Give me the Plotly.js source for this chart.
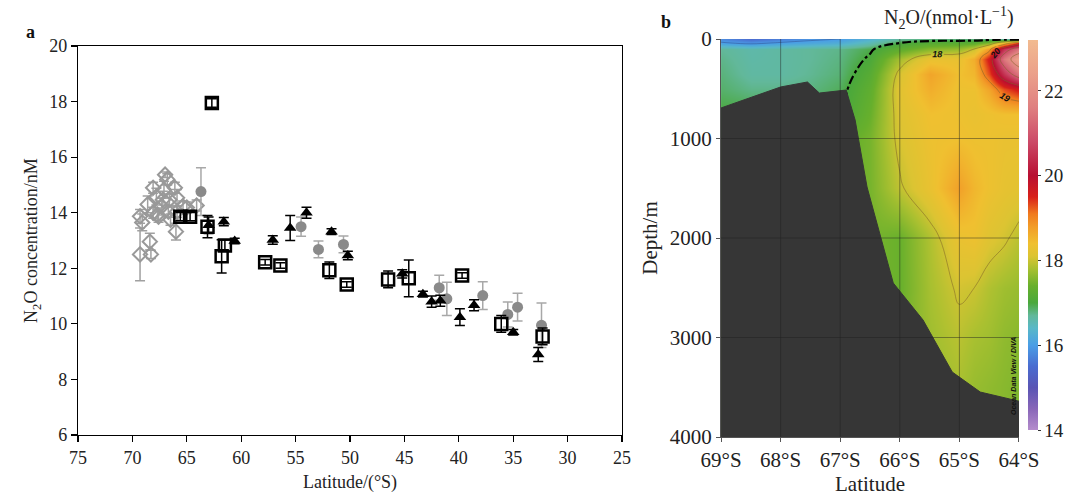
<!DOCTYPE html>
<html>
<head>
<meta charset="utf-8">
<script src="https://cdn.plot.ly/plotly-3.0.1.min.js"></script>
<style>html,body{margin:0;padding:0;background:#fff;}#chart{width:1066px;height:497px;}</style>
</head>
<body>
<div id="chart"></div>
<script>
// ---------- Panel a data ----------
const diamondLat = [69.3, 68.3, 68.4, 69.1, 69.3, 68.1, 68.6, 67.7, 67.8, 68.1, 67.0, 66.8, 67.1, 67.2, 66.6, 66.1, 65.9, 67.3, 66.7, 67.6, 66.5, 66.0, 65.0, 64.1, 65.35, 65.9];
const diamondVal = [12.5, 12.5, 12.96, 13.65, 13.87, 14.0, 14.3, 13.93, 14.58, 14.9, 15.37, 15.2, 14.83, 14.47, 14.47, 14.9, 14.54, 14.22, 14.04, 13.86, 13.75, 13.32, 14.19, 14.26, 14.22, 14.04];
const diamondErr = [0.95, 0.15, 0.3, 0.3, 0.25, 0.2, 0.3, 0.2, 0.3, 0.2, 0.1, 0.2, 0.3, 0.3, 0.2, 0.2, 0.3, 0.3, 0.2, 0.2, 0.2, 0.3, 0.2, 0.2, 0.2, 0.2];

const circleLat = [63.7, 54.5, 52.9, 50.6, 41.8, 41.1, 37.8, 35.5, 34.6, 32.4];
const circleVal = [14.76, 13.5, 12.68, 12.86, 11.3, 10.9, 11.02, 10.34, 10.6, 9.95];
const circleErr = [0.86, 0.35, 0.3, 0.3, 0.45, 0.6, 0.5, 0.45, 0.5, 0.8];

const triLat = [63.0, 61.6, 60.6, 57.1, 55.5, 54.0, 51.7, 50.2, 45.2, 43.3, 42.5, 41.7, 39.9, 38.6, 35.0, 32.7];
const triVal = [13.55, 13.68, 12.98, 13.02, 13.45, 14.0, 13.32, 12.46, 11.8, 11.07, 10.8, 10.83, 10.24, 10.67, 9.7, 8.9];
const triErr = [0.3, 0.15, 0.1, 0.15, 0.45, 0.2, 0.1, 0.15, 0.15, 0.1, 0.2, 0.2, 0.3, 0.2, 0.1, 0.25];

const squareLat = [62.7, 63.1, 65.6, 64.7, 61.5, 61.8, 57.8, 56.4, 51.9, 50.3, 46.5, 44.6, 39.7, 36.1, 32.3];
const squareVal = [17.95, 13.5, 13.86, 13.86, 12.82, 12.43, 12.22, 12.1, 11.93, 11.42, 11.6, 11.64, 11.74, 10.0, 9.55];
const squareErr = [0.15, 0.4, 0.15, 0.15, 0.2, 0.6, 0.1, 0.1, 0.3, 0.1, 0.3, 0.66, 0.1, 0.3, 0.3];

const xTicksA = [75, 70, 65, 60, 55, 50, 45, 40, 35, 30, 25];
const yTicksA = [6, 8, 10, 12, 14, 16, 18, 20];

// ---------- Panel b data ----------
const secLat = [69, 68.5, 68, 67.5, 67, 66.5, 66, 65.5, 65, 64.75, 64.5, 64.25, 64];
const secDepth = [0, 40, 100, 200, 350, 500, 750, 1000, 1500, 2000, 2500, 3000, 3500, 4000];
const secN2O = [
  [15.8, 15.5, 15.7, 15.9, 16.0, 16.3, 16.7, 16.8, 16.8, 16.8, 16.8, 16.7, 16.6],
  [16.05, 15.9, 16.05, 16.15, 16.25, 16.55, 17.0, 17.2, 17.25, 17.3, 17.6, 18.5, 19.6],
  [16.7, 16.6, 16.65, 16.7, 16.75, 16.95, 17.3, 17.6, 17.7, 18.0, 18.8, 20.5, 21.5],
  [16.75, 16.62, 16.65, 16.7, 16.78, 17.05, 17.8, 18.3, 18.3, 18.6, 19.6, 21.5, 22.6],
  [16.8, 16.65, 16.65, 16.72, 16.82, 17.2, 18.1, 18.7, 18.4, 18.5, 19.3, 20.5, 21.5],
  [16.85, 16.75, 16.75, 16.78, 16.9, 17.3, 18.2, 18.6, 18.35, 18.35, 18.7, 19.3, 19.6],
  [17.0, 17.0, 17.0, 17.0, 17.0, 17.4, 18.15, 18.4, 18.35, 18.3, 18.35, 18.4, 18.4],
  [17.2, 17.2, 17.2, 17.2, 17.3, 17.5, 18.1, 18.35, 18.4, 18.35, 18.35, 18.3, 18.3],
  [17.4, 17.4, 17.4, 17.4, 17.4, 17.5, 17.95, 18.3, 18.75, 18.5, 18.35, 18.25, 18.2],
  [17.5, 17.5, 17.5, 17.5, 17.5, 17.5, 17.4, 17.85, 18.3, 18.35, 18.15, 18.05, 17.9],
  [17.5, 17.5, 17.5, 17.5, 17.5, 17.5, 17.4, 17.8, 18.05, 18.0, 17.85, 17.75, 17.7],
  [17.5, 17.5, 17.5, 17.5, 17.5, 17.5, 17.5, 17.75, 17.9, 17.8, 17.75, 17.65, 17.6],
  [17.5, 17.5, 17.5, 17.5, 17.5, 17.5, 17.55, 17.7, 17.8, 17.7, 17.65, 17.6, 17.55],
  [17.5, 17.5, 17.5, 17.5, 17.5, 17.5, 17.55, 17.7, 17.8, 17.7, 17.65, 17.6, 17.55]
];
const bathyLat = [69.0, 68.0, 67.55, 67.35, 66.9, 66.75, 66.55, 66.11, 65.61, 65.12, 64.65, 64.12, 64.0, 64.0, 69.0];
const bathyDepth = [693, 482, 432, 543, 513, 814, 1487, 2452, 2824, 3347, 3548, 3618, 3640, 4000, 4000];

const xTicksB = [69, 68, 67, 66, 65, 64];
const xTickTextB = ['69°S', '68°S', '67°S', '66°S', '65°S', '64°S'];
const yTicksB = [0, 1000, 2000, 3000, 4000];
const cbTicks = [14, 16, 18, 20, 22];
const cbMin = 14, cbMax = 23.2;

// colour stops of the Ocean Data View palette (value, colour)
const odvStops = [
  [14.0, '#b48ccc'], [14.5, '#8866b8'], [15.0, '#5a55b4'], [15.5, '#4a6cd0'],
  [16.0, '#4a9ee6'], [16.4, '#58b8c8'], [16.7, '#62b89a'], [17.0, '#4aa83c'],
  [17.4, '#68b02c'], [17.8, '#a8c030'], [18.1, '#dcc432'], [18.4, '#f0c030'],
  [18.8, '#f29c28'], [19.1, '#f07a1e'], [19.5, '#d8201a'], [20.0, '#b80f32'],
  [20.8, '#cc4a68'], [21.6, '#df7f80'], [22.4, '#eba08a'], [23.2, '#f2bb90']
];
const odvScale = odvStops.map(s => [(s[0] - cbMin) / (cbMax - cbMin), s[1]]);

const serif = 'Liberation Serif, Times New Roman, serif';

const errStyle = (arr, col, th) => ({type: 'data', array: arr, visible: true, color: col, thickness: th, width: 5});
const lblFont = {size: 9, color: '#111', family: 'Liberation Sans, Arial', style: 'italic', weight: 'bold'};

const traces = [
  {x: diamondLat, y: diamondVal, type: 'scatter', mode: 'markers', xaxis: 'x', yaxis: 'y',
   marker: {symbol: 'diamond-open', size: 11, color: '#999', line: {width: 2, color: '#999'}},
   error_y: errStyle(diamondErr, '#a0a0a0', 1.5), showlegend: false},
  {x: circleLat, y: circleVal, type: 'scatter', mode: 'markers', xaxis: 'x', yaxis: 'y',
   marker: {symbol: 'circle', size: 11, color: '#8a8a8a'},
   error_y: errStyle(circleErr, '#a8a8a8', 1.5), showlegend: false},
  {x: triLat, y: triVal, type: 'scatter', mode: 'markers', xaxis: 'x', yaxis: 'y',
   marker: {symbol: 'triangle-up', size: 11, color: '#000'},
   error_y: errStyle(triErr, '#000', 1.5), showlegend: false},
  {x: squareLat, y: squareVal, type: 'scatter', mode: 'markers', xaxis: 'x', yaxis: 'y',
   marker: {symbol: 'square-open', size: 12, color: '#000', line: {width: 2.5, color: '#000'}},
   error_y: errStyle(squareErr, '#000', 1.5), showlegend: false},
  // Panel b
  {x: secLat, y: secDepth, z: secN2O, type: 'heatmap', xaxis: 'x2', yaxis: 'y2',
   zsmooth: 'best', zmin: cbMin, zmax: cbMax, colorscale: odvScale, showscale: true,
   colorbar: {x: 1018 / 1066, xanchor: 'left', xpad: 10, y: 0.527, yanchor: 'middle', len: 0.825, thickness: 10,
              outlinewidth: 0, tickvals: cbTicks, ticks: 'outside', ticklen: 3, tickcolor: '#333',
              tickfont: {family: serif, size: 19, color: '#222'}}},
  {x: secLat, y: secDepth, z: secN2O, type: 'contour', xaxis: 'x2', yaxis: 'y2', showscale: false,
   autocontour: false, contours: {coloring: 'none', start: 18, end: 22, size: 1, showlabels: true, labelfont: lblFont},
   line: {color: 'rgba(130,100,40,0.55)', width: 1, smoothing: 1.2}, hoverinfo: 'skip'},
  {x: secLat, y: secDepth, z: secN2O, type: 'contour', xaxis: 'x2', yaxis: 'y2', showscale: false,
   autocontour: false, contours: {coloring: 'none', start: 17, end: 17, size: 1, showlabels: true, labelfont: lblFont},
   line: {color: '#000', width: 2.2, dash: 'dashdot', smoothing: 1.2}, hoverinfo: 'skip'},
  {x: secLat, y: secDepth, z: secN2O, type: 'contour', xaxis: 'x2', yaxis: 'y2', showscale: false,
   autocontour: false, contours: {coloring: 'none', start: 16, end: 16, size: 1, showlabels: true, labelfont: lblFont},
   line: {color: 'rgba(40,60,120,0.5)', width: 0.8, smoothing: 1.2}, hoverinfo: 'skip'},
  {x: bathyLat, y: bathyDepth, type: 'scatter', mode: 'lines', xaxis: 'x2', yaxis: 'y2',
   fill: 'toself', fillcolor: '#363636', line: {color: '#363636', width: 1}, showlegend: false, hoverinfo: 'skip'}
];

const gridShapes = [];
xTicksB.slice(1, -1).forEach(v => gridShapes.push({type: 'line', xref: 'x2', yref: 'y2', x0: v, x1: v, y0: 0, y1: 4000,
  line: {color: 'rgba(30,30,30,0.45)', width: 1}, layer: 'above'}));
yTicksB.slice(1, -1).forEach(v => gridShapes.push({type: 'line', xref: 'x2', yref: 'y2', x0: 69, x1: 64, y0: v, y1: v,
  line: {color: 'rgba(30,30,30,0.45)', width: 1}, layer: 'above'}));

const layout = {
  width: 1066, height: 497, margin: {l: 0, r: 0, t: 0, b: 0, autoexpand: false},
  paper_bgcolor: '#fff', plot_bgcolor: '#fff', showlegend: false,
  font: {family: serif, color: '#222'},
  xaxis: {domain: [0.0732, 0.5835], range: [75, 25], tickvals: xTicksA, ticks: 'outside', ticklen: 6,
          tickwidth: 1.2, tickcolor: '#000', showline: true, linecolor: '#000', linewidth: 1.3, mirror: true,
          showgrid: false, zeroline: false, tickfont: {family: serif, size: 18, color: '#222'},
          title: {text: 'Latitude/(°S)', font: {family: serif, size: 18, color: '#222'}, standoff: 8}, anchor: 'y'},
  yaxis: {domain: [0.1247, 0.9074], range: [6, 20], tickvals: yTicksA, ticks: 'outside', ticklen: 6,
          tickwidth: 1.2, tickcolor: '#000', showline: true, linecolor: '#000', linewidth: 1.3, mirror: true,
          showgrid: false, zeroline: false, tickfont: {family: serif, size: 18, color: '#222'},
          title: {text: 'N<sub>2</sub>O concentration/nM', font: {family: serif, size: 18, color: '#222'}, standoff: 6}, anchor: 'x'},
  xaxis2: {domain: [0.6764, 0.9559], range: [69, 64], tickvals: xTicksB, ticktext: xTickTextB, ticks: 'outside',
           ticklen: 4, tickcolor: '#555', showline: true, linecolor: '#555', linewidth: 1, showgrid: false, zeroline: false,
           tickfont: {family: serif, size: 21, color: '#222'},
           title: {text: 'Latitude', font: {family: serif, size: 21, color: '#222'}, standoff: 4}, anchor: 'y2'},
  yaxis2: {domain: [0.1207, 0.9215], range: [4000, 0], tickvals: yTicksB, ticks: 'outside', ticklen: 4,
           tickcolor: '#555', showline: true, linecolor: '#555', linewidth: 1, showgrid: false, zeroline: false,
           tickfont: {family: serif, size: 21, color: '#222'},
           title: {text: 'Depth/m', font: {family: serif, size: 21, color: '#222'}, standoff: 6}, anchor: 'x2'},
  shapes: gridShapes,
  annotations: [
    {text: '<b>a</b>', xref: 'paper', yref: 'paper', x: 30 / 1066, y: 1 - 32 / 497, xanchor: 'center', yanchor: 'middle',
     showarrow: false, font: {family: serif, size: 18, color: '#111'}},
    {text: '<b>b</b>', xref: 'paper', yref: 'paper', x: 666 / 1066, y: 1 - 22 / 497, xanchor: 'center', yanchor: 'middle',
     showarrow: false, font: {family: serif, size: 18, color: '#111'}},
    {text: 'N<sub>2</sub>O/(nmol·L<sup>−1</sup>)', xref: 'paper', yref: 'paper', x: 1016 / 1066, xanchor: 'right',
     y: 1 - 18 / 497, yanchor: 'middle', showarrow: false, font: {family: serif, size: 20, color: '#222'}},
    {text: '<b><i>Ocean Data View / DIVA</i></b>', xref: 'paper', yref: 'paper', x: 1013 / 1066, y: 1 - 376 / 497,
     xanchor: 'center', yanchor: 'middle', textangle: -90, showarrow: false,
     font: {family: 'Liberation Sans, Arial', size: 7, color: '#111'}}
  ]
};

Plotly.newPlot('chart', traces, layout, {staticPlot: true, displayModeBar: false});
</script>
</body>
</html>
